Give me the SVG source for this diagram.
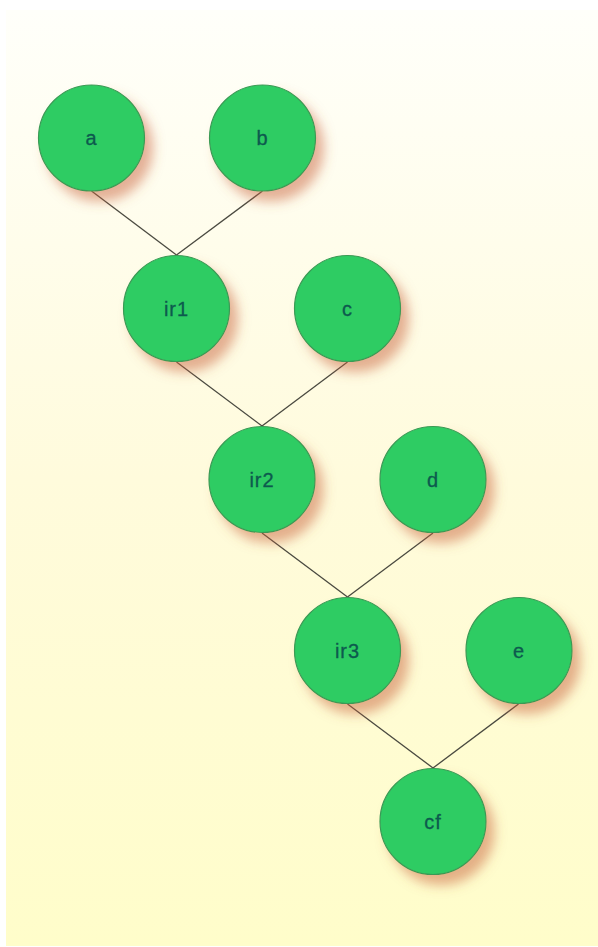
<svg xmlns="http://www.w3.org/2000/svg" width="598" height="947" viewBox="0 0 598 947">
  <defs>
    <linearGradient id="bg" x1="0" y1="0" x2="0" y2="1">
      <stop offset="0" stop-color="#fffffa"/>
      <stop offset="0.5" stop-color="#fffbdc"/>
      <stop offset="1" stop-color="#fffdca"/>
    </linearGradient>
    <filter id="shadow" x="-30%" y="-30%" width="170%" height="170%">
      <feDropShadow dx="8" dy="10" stdDeviation="6" flood-color="#c8643c" flood-opacity="0.5"/>
    </filter>
    <style>
      .node circle { fill: #2ecc64; stroke: #3a9a55; stroke-width: 1.2; filter: url(#shadow); }
      .node text { font-family: "Liberation Sans", Arial, sans-serif; font-size: 20px; letter-spacing: 1px; fill: #0d5a4e; stroke: #0d5a4e; stroke-width: 0.3; text-anchor: middle; dominant-baseline: central; }
      .edges line { stroke: #4a4a40; stroke-width: 1.3; }
    </style>
  </defs>
  <rect x="0" y="0" width="598" height="947" fill="#ffffff"/>
  <rect x="6" y="10" width="592" height="936" fill="url(#bg)"/>
  <g class="edges">
    <line x1="91.5" y1="191" x2="176.5" y2="255"/>
    <line x1="262.5" y1="191" x2="176.5" y2="255"/>
    <line x1="176.5" y1="362" x2="262" y2="426"/>
    <line x1="347.5" y1="362" x2="262" y2="426"/>
    <line x1="262" y1="533" x2="347.5" y2="597"/>
    <line x1="433" y1="533" x2="347.5" y2="597"/>
    <line x1="347.5" y1="704" x2="433" y2="768"/>
    <line x1="518.5" y1="704" x2="433" y2="768"/>
  </g>
  <g id="a" class="node"><circle cx="91.5" cy="138" r="53"/><text x="91.5" y="138">a</text></g>
  <g id="b" class="node"><circle cx="262.5" cy="138" r="53"/><text x="262.5" y="138">b</text></g>
  <g id="ir1" class="node"><circle cx="176.5" cy="308.5" r="53"/><text x="176.5" y="308.5">ir1</text></g>
  <g id="c" class="node"><circle cx="347.5" cy="308.5" r="53"/><text x="347.5" y="308.5">c</text></g>
  <g id="ir2" class="node"><circle cx="262" cy="479.5" r="53"/><text x="262" y="479.5">ir2</text></g>
  <g id="d" class="node"><circle cx="433" cy="479.5" r="53"/><text x="433" y="479.5">d</text></g>
  <g id="ir3" class="node"><circle cx="347.5" cy="650.5" r="53"/><text x="347.5" y="650.5">ir3</text></g>
  <g id="e" class="node"><circle cx="519" cy="650.5" r="53"/><text x="519" y="650.5">e</text></g>
  <g id="cf" class="node"><circle cx="433" cy="821.5" r="53"/><text x="433" y="821.5">cf</text></g>
</svg>
